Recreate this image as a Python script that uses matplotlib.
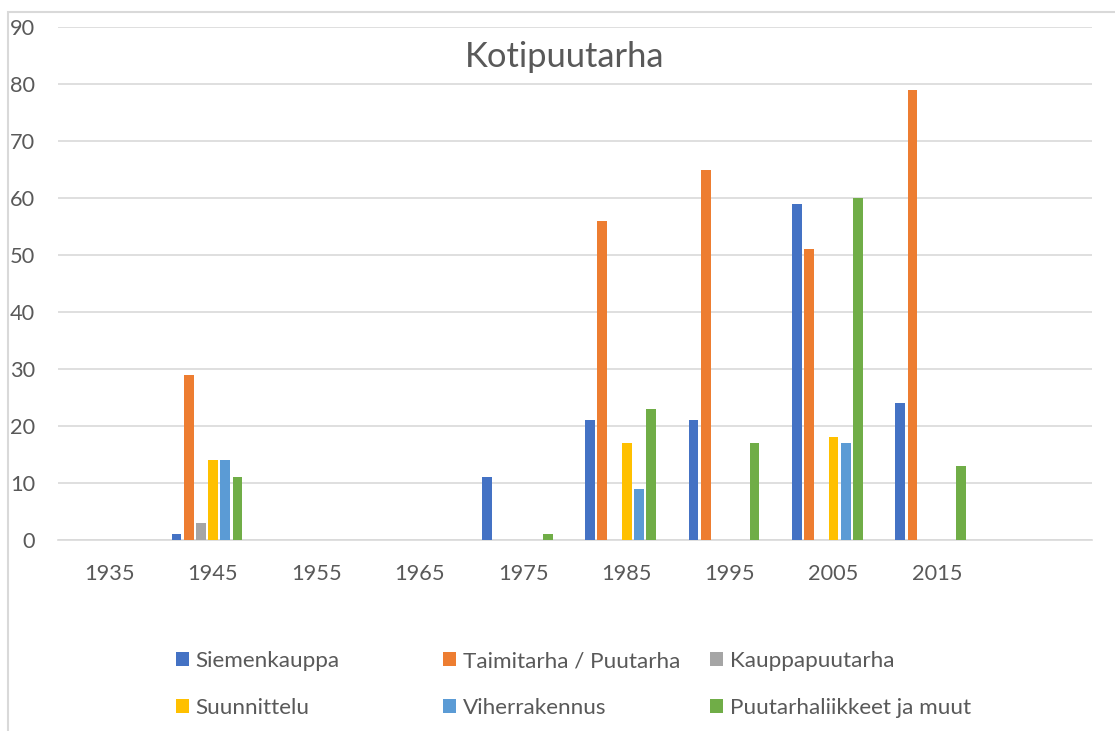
import matplotlib
matplotlib.use("Agg")
import matplotlib.pyplot as plt
from matplotlib.patches import Rectangle, Patch
import matplotlib.transforms as mtransforms
import numpy as np

plt.rcParams['font.family'] = ['Lato', 'DejaVu Sans']

categories = ['1935', '1945', '1955', '1965', '1975', '1985', '1995', '2005', '2015', '']
series_names = ['Siemenkauppa', 'Taimitarha / Puutarha', 'Kauppapuutarha',
                'Suunnittelu', 'Viherrakennus', 'Puutarhaliikkeet ja muut']
siemenkauppa = [0, 1, 0, 0, 11, 21, 21, 59, 24, 0]
taimitarha = [0, 29, 0, 0, 0, 56, 65, 51, 79, 0]
kauppapuutarha = [0, 3, 0, 0, 0, 0, 0, 0, 0, 0]
suunnittelu = [0, 14, 0, 0, 0, 17, 0, 18, 0, 0]
viherrakennus = [0, 14, 0, 0, 0, 9, 0, 17, 0, 0]
puutarhaliikkeet = [0, 11, 0, 0, 1, 23, 17, 60, 13, 0]
values = [siemenkauppa, taimitarha, kauppapuutarha, suunnittelu, viherrakennus, puutarhaliikkeet]
colors = ['#4472C4', '#ED7D31', '#A5A5A5', '#FFC000', '#5B9BD5', '#70AD47']

W, H = 1115, 731
fig = plt.figure(figsize=(W / 100, H / 100), dpi=100)
ax = fig.add_axes([58 / W, 1 - 540 / H, (1092 - 58) / W, (540 - 27) / H])

x = np.arange(len(categories))
slot = 0.118
bw = 0.094
handles = []
for i, (name, vals, c) in enumerate(zip(series_names, values, colors)):
    off = (i - 2.5) * slot
    ax.bar(x + off, vals, width=bw, color=c, label=name, zorder=3)
    handles.append(Patch(facecolor=c, edgecolor='none', label=name))

ax.set_xlim(-0.441, len(categories) - 0.441)
ax.set_ylim(0, 90)
ax.set_yticks(np.arange(0, 91, 10))
ax.set_xticks(x)
ax.set_xticklabels(categories)
ax.yaxis.grid(True, color='#D9D9D9', linewidth=1.2, zorder=0)
ax.set_axisbelow(True)
for s in ['top', 'right', 'left']:
    ax.spines[s].set_visible(False)
ax.spines['bottom'].set_color('#D9D9D9')
ax.spines['bottom'].set_linewidth(1.2)
ax.tick_params(axis='both', length=0, colors='#595959', labelsize=15.7)
ax.tick_params(axis='y', pad=16.5)
ax.tick_params(axis='x', pad=17)
shift = mtransforms.ScaledTranslation(6 / 100, 0, fig.dpi_scale_trans)
for lbl in ax.get_xticklabels():
    lbl.set_transform(lbl.get_transform() + shift)

fig.text(565 / W, 1 - 57 / H, 'Kotipuutarha', ha='center', va='center',
         fontsize=24.8, color='#595959')

# legend: three columns of two entries
col_x = [176, 443, 710]
for ci in range(3):
    hs = [handles[ci], handles[ci + 3]]
    leg = fig.legend(handles=hs, loc='upper left',
                     bbox_to_anchor=(col_x[ci] / W, 1 - 651 / H),
                     frameon=False, fontsize=16.2, handlelength=0.58,
                     handleheight=0.62, handletextpad=0.3, labelspacing=1.2,
                     borderaxespad=0, borderpad=0)
    for t in leg.get_texts():
        t.set_color('#595959')

# chart border
fig.patches.append(Rectangle((8 / W, -0.1), 1.2, 1 - 12 / H + 0.1,
                             transform=fig.transFigure, fill=False,
                             edgecolor='#D9D9D9', linewidth=1.5))

fig.savefig('out.png', dpi=100)
